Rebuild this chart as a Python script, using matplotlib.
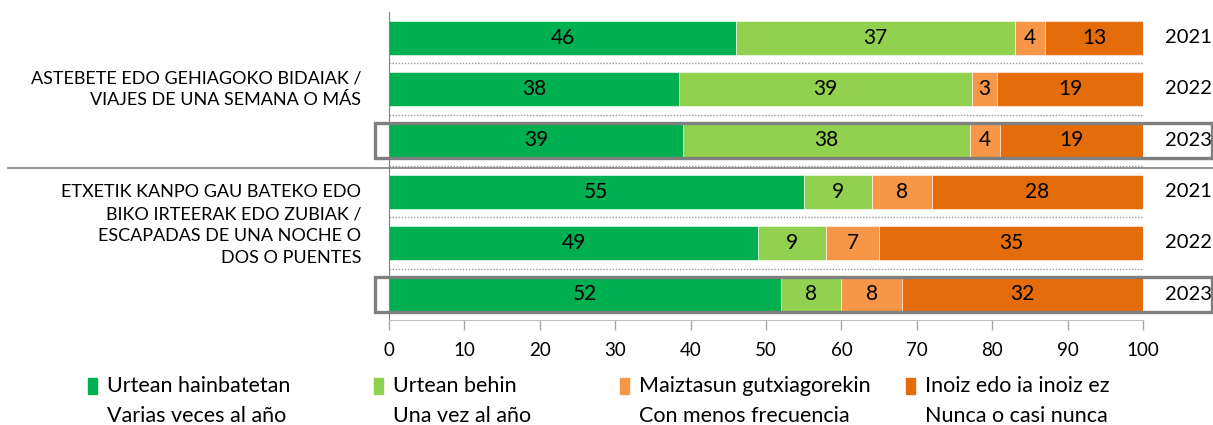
import matplotlib.pyplot as plt
from matplotlib.patches import Rectangle

plt.rcParams['font.family'] = ['Lato', 'DejaVu Sans']

# data
years = ['2021', '2022', '2023', '2021', '2022', '2023']
varias = [46, 38.4, 39, 55, 49, 52]     # Urtean hainbatetan
una_vez = [37, 38.9, 38, 9, 9, 8]       # Urtean behin
menos = [4, 3.4, 4, 8, 7, 8]            # Maiztasun gutxiagorekin
nunca = [13, 19.3, 19, 28, 35, 32]      # Inoiz edo ia inoiz ez

groups = ['ASTEBETE EDO GEHIAGOKO BIDAIAK /\nVIAJES DE UNA SEMANA O MÁS',
          'ETXETIK KANPO GAU BATEKO EDO\nBIKO IRTEERAK EDO ZUBIAK /\nESCAPADAS DE UNA NOCHE O\nDOS O PUENTES']
legend_eu = ['Urtean hainbatetan', 'Urtean behin', 'Maiztasun gutxiagorekin', 'Inoiz edo ia inoiz ez']
legend_es = ['Varias veces al año', 'Una vez al año', 'Con menos frecuencia', 'Nunca o casi nunca']
colors = ['#00B050', '#92D050', '#F79646', '#E46C0A']

fig = plt.figure(figsize=(12.13, 4.25), dpi=100)
ax = fig.add_axes([389/1213, 105/425, 754/1213, 308/425])

series = [varias, una_vez, menos, nunca]
rows = list(range(len(years)))
left = [0] * len(years)
for vals, col in zip(series, colors):
    bars = ax.barh(rows, vals, left=left, height=0.66, color=col, edgecolor='white', linewidth=0.4)
    ax.bar_label(bars, labels=[str(round(v)) for v in vals], label_type='center', fontsize=15, color='black')
    left = [l + v for l, v in zip(left, vals)]

ax.set_xlim(0, 100)
ax.set_ylim(5.5, -0.5)
ax.set_xticks(range(0, 101, 10))
ax.set_yticks([])
ax.tick_params(axis='x', length=7, width=1, color='#A6A6A6', labelsize=13.5, pad=9)
for s in ['top', 'right']:
    ax.spines[s].set_visible(False)
ax.spines['left'].set_color('#808080')
ax.spines['bottom'].set_color('#BFBFBF')

# dotted separators between years
for y in [0.5, 1.5, 2.5, 3.5, 4.5]:
    ax.axhline(y, color='#999999', linestyle=(0, (1, 1.2)), linewidth=1)
# solid separator between groups
ax.axhline(2.53, xmin=-0.505, xmax=1.093, color='#808080', linewidth=1.2, clip_on=False)

# year labels
for r, yr in zip(rows, years):
    ax.text(106, r, yr, ha='center', va='center', fontsize=14.5, clip_on=False)

# highlight boxes on 2023 rows
for r in [2, 5]:
    ax.add_patch(Rectangle((-1.9, r - 0.34), 111, 0.68, fill=False, edgecolor='#7F7F7F',
                           linewidth=2.4, clip_on=False, zorder=5))

# group labels
ax.text(-3.7, 1.0, groups[0], ha='right', va='center', fontsize=13, linespacing=1.45)
ax.text(-3.7, 3.65, groups[1], ha='right', va='center', fontsize=13, linespacing=1.45)

# legend
sq_x = [88, 374, 620, 906]
for x, c, eu, es in zip(sq_x, colors, legend_eu, legend_es):
    fig.patches.append(Rectangle((x / 1213, 1 - 394 / 425), 9 / 1213, 16 / 425, color=c,
                                 transform=fig.transFigure, figure=fig))
    fig.text((x + 19) / 1213, 1 - 386 / 425, eu, ha='left', va='center', fontsize=15.5)
    fig.text((x + 19) / 1213, 1 - 416 / 425, es, ha='left', va='center', fontsize=15.5)

fig.savefig('out.png', dpi=100)
